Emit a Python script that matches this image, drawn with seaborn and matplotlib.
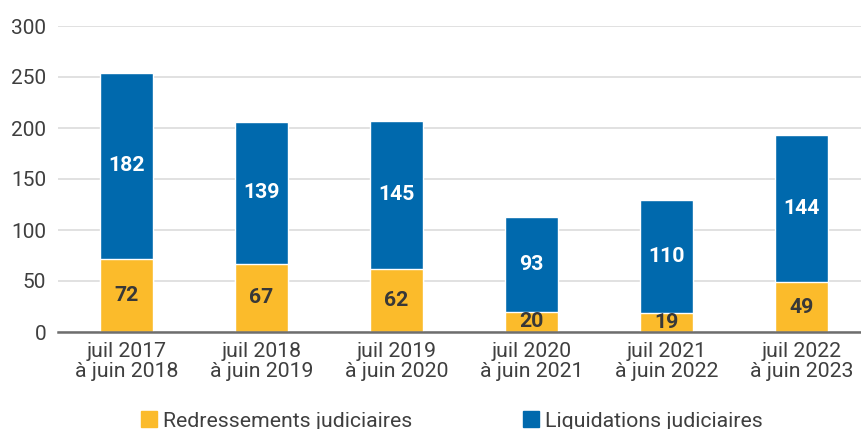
import pandas as pd
import numpy as np
import seaborn as sns
import matplotlib.pyplot as plt

# data
periods = [
    "juil 2017\nà juin 2018",
    "juil 2018\nà juin 2019",
    "juil 2019\nà juin 2020",
    "juil 2020\nà juin 2021",
    "juil 2021\nà juin 2022",
    "juil 2022\nà juin 2023",
]
redressements = [72, 67, 62, 20, 19, 49]
liquidations = [182, 139, 145, 93, 110, 144]
series_names = ["Redressements judiciaires", "Liquidations judiciaires"]

yellow = "#FBBB2B"
blue = "#0069AD"

sns.set_theme(style="white")
plt.rcParams['font.family'] = ['Roboto', 'DejaVu Sans']

df = pd.DataFrame({
    "periode": periods,
    "redr": redressements,
    "liq": liquidations,
})
df["total"] = df["redr"] + df["liq"]

fig = plt.figure(figsize=(8.61, 4.29), dpi=100)
ax = fig.add_axes([58 / 861, 97 / 429, 1 - 58 / 861, 306 / 429])

# stacked bars: total in blue, then the bottom part in yellow
sns.barplot(data=df, x="periode", y="total", color=blue, width=0.39,
            saturation=1, ax=ax, zorder=3)
sns.barplot(data=df, x="periode", y="redr", color=yellow, width=0.39,
            saturation=1, ax=ax, zorder=3)

# value labels in the middle of each segment
for i, row in df.iterrows():
    ax.text(i, row["redr"] / 2, str(row["redr"]), ha="center", va="center",
            fontsize=15.3, fontweight="bold", color="#383838", zorder=4)
    ax.text(i, row["redr"] + row["liq"] / 2, str(row["liq"]), ha="center",
            va="center", fontsize=15.3, fontweight="bold", color="white",
            zorder=4)

ax.set_ylim(0, 300)
ax.set_xlim(-0.507, 5.44)
ax.set_yticks([0, 50, 100, 150, 200, 250, 300])
ax.yaxis.grid(True, color="#dcdcdc", linewidth=1.2, zorder=0)
ax.set_xlabel("")
ax.set_ylabel("")
for s in ["top", "right", "left"]:
    ax.spines[s].set_visible(False)
ax.spines["bottom"].set_color("#6e6e6e")
ax.spines["bottom"].set_linewidth(1.8)
ax.spines["bottom"].set_zorder(5)
ax.tick_params(axis="y", length=0, labelsize=15, labelcolor="#3f3f3f", pad=8.5)
ax.tick_params(axis="x", length=0, labelsize=15.3, labelcolor="#3f3f3f", pad=7)
for t in ax.get_xticklabels():
    t.set_linespacing(1.1)

# legend at the bottom, yellow first
handles = [plt.Rectangle((0, 0), 1, 1, color=yellow),
           plt.Rectangle((0, 0), 1, 1, color=blue)]
fig.legend(handles, series_names, loc="center", ncol=2, frameon=False,
           bbox_to_anchor=(452 / 861, 8 / 429), fontsize=15.3,
           handlelength=0.75, handleheight=0.75, handletextpad=0.3,
           columnspacing=5.2, labelcolor="#3f3f3f")

fig.savefig("out.png", dpi=100)
